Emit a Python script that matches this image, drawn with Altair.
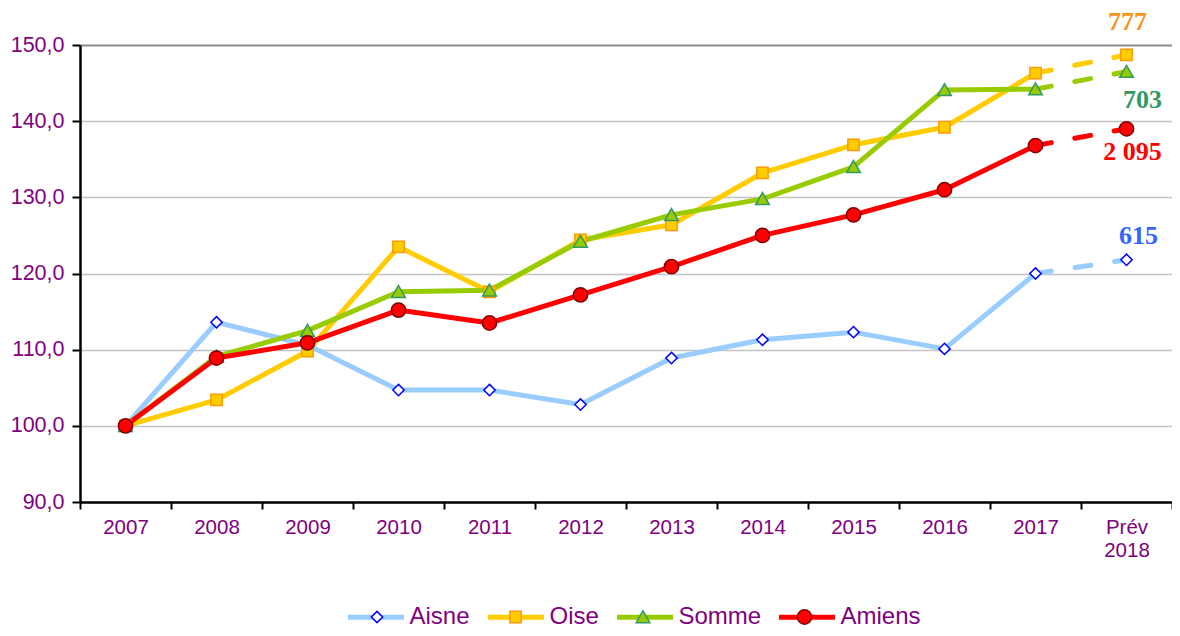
import altair as alt
import pandas as pd

# ---------------- data ----------------
years = ["2007", "2008", "2009", "2010", "2011", "2012", "2013", "2014",
         "2015", "2016", "2017", "Prév 2018"]
series = ["Aisne", "Oise", "Somme", "Amiens"]

aisne = [100.0, 113.6, 110.6, 104.7, 104.7, 102.8, 108.9, 111.3, 112.3, 110.1, 120.0, 121.8]
oise = [100.0, 103.4, 109.8, 123.5, 117.6, 124.4, 126.4, 133.2, 136.9, 139.2, 146.3, 148.7]
somme = [100.0, 109.1, 112.5, 117.6, 117.8, 124.2, 127.7, 129.8, 134.0, 144.1, 144.2, 146.5]
amiens = [100.0, 108.9, 110.9, 115.2, 113.5, 117.2, 120.9, 125.0, 127.7, 131.0, 136.8, 139.0]

annotations = ["615", "777", "703", "2 095"]

y_ticks = [90, 100, 110, 120, 130, 140, 150]

# ---------------- styles ----------------
PURPLE = "#800080"
line_colors = ["#99ccff", "#ffcc00", "#99cc00", "#ff0000"]
marker_fill = ["#ffffff", "#ffcc00", "#99cc00", "#ff0000"]
marker_stroke = ["#0000ff", "#ff9900", "#339966", "#800000"]
annot_colors = ["#3366ff", "#f7941d", "#339966", "#ff0000"]
# label offsets (dx, dy) for the end annotations
annot_offsets = [(12, -24), (1, -33), (16, 28), (6, 23)]

# custom marker paths (unit box), drawn with a symbol size of 59.5^2
marker_paths = [
    "M0,-0.19L0.19,0L0,0.19L-0.19,0Z",
    "M-0.19,-0.19H0.19V0.19H-0.19Z",
    "M0,-0.21L0.23,0.19H-0.23Z",
    "M0.24,0A0.24,0.24 0 1,1 -0.24,0A0.24,0.24 0 1,1 0.24,0Z",
]
MARK_SIZE = 59.5 ** 2
LINE_SYM = 56 ** 2
LINE_W = 5

# legend placement (pixels, relative to the plot origin)
LEG_X = 265.5
LEG_Y = 541.5
marker_legend_x = [377 - 110.5, 515.5 - 110.5, 643 - 110.5, 804.5 - 110.5]

rows = []
for name, vals, lab in zip(series, [aisne, oise, somme, amiens], annotations):
    for yr, v in zip(years, vals):
        rows.append({"year": yr, "series": name, "value": v, "annot": lab})
df = pd.DataFrame(rows)

FONT = "Liberation Sans"

x_enc = alt.X("year:O", sort=years, title=None,
              scale=alt.Scale(paddingInner=0, paddingOuter=0),
              axis=alt.Axis(labelAngle=0, tickBand="extent", tickSize=7,
                            tickColor="black", tickWidth=2,
                            domainColor="black", domainWidth=2.5,
                            labelColor=PURPLE, labelFont=FONT, labelFontSize=20.5,
                            labelPadding=8, labelBaseline="top", labelLineHeight=23,
                            labelExpr="datum.value == 'Prév 2018' ? ['Prév', '2018'] : datum.value"))
y_enc = alt.Y("value:Q", title=None,
              scale=alt.Scale(domain=[90, 150], nice=False, zero=False),
              axis=alt.Axis(values=y_ticks, tickSize=8, tickColor="black", tickWidth=2,
                            domainColor="black", domainWidth=2.5,
                            labelColor=PURPLE, labelFont=FONT, labelFontSize=21.5,
                            labelPadding=8,
                            labelExpr="replace(format(datum.value, '.1f'), '.', ',')",
                            grid=True,
                            gridColor={"condition": {"test": "datum.value === 150", "value": "#8c8c8c"},
                                       "value": "#c3c3c3"},
                            gridWidth={"condition": {"test": "datum.value === 150", "value": 2},
                                       "value": 1.5}))

color_scale = alt.Scale(domain=series, range=line_colors)

line_legend = alt.Legend(title=None, orient="none", legendX=LEG_X, legendY=LEG_Y,
                         direction="horizontal", symbolType="stroke",
                         symbolSize=LINE_SYM, symbolStrokeWidth=LINE_W,
                         labelFont=FONT, labelFontSize=24, labelColor=PURPLE,
                         labelOffset=3, columnPadding=7, padding=0, zindex=0)

base = alt.Chart(df)

solid = base.transform_filter(alt.datum.year != "Prév 2018").mark_line(
    strokeWidth=LINE_W, strokeCap="round", strokeJoin="round"
).encode(
    x=x_enc, y=y_enc,
    color=alt.Color("series:N", scale=color_scale, legend=line_legend),
)

dashed = base.transform_filter(
    alt.FieldOneOfPredicate(field="year", oneOf=["2017", "Prév 2018"])
).mark_line(strokeWidth=LINE_W, strokeCap="round", strokeDash=[16, 24]).encode(
    x=alt.X("year:O", sort=years), y="value:Q",
    color=alt.Color("series:N", scale=color_scale, legend=None),
)

point_layers = []
for name, path, fcol, scol, lx in zip(series, marker_paths, marker_fill, marker_stroke, marker_legend_x):
    leg = alt.Legend(title=None, orient="none", legendX=lx, legendY=LEG_Y,
                     direction="horizontal", symbolSize=MARK_SIZE, symbolStrokeWidth=1.5,
                     labelExpr="''", labelOffset=0, padding=0, zindex=1)
    point_layers.append(
        base.transform_filter(alt.datum.series == name).mark_point(
            filled=True, size=MARK_SIZE, strokeWidth=1.5, opacity=1
        ).encode(
            x=alt.X("year:O", sort=years), y="value:Q",
            shape=alt.Shape("series:N", scale=alt.Scale(domain=[name], range=[path]), legend=leg),
            fill=alt.Fill("series:N", scale=alt.Scale(domain=[name], range=[fcol]), legend=leg),
            stroke=alt.Stroke("series:N", scale=alt.Scale(domain=[name], range=[scol]), legend=leg),
        )
    )

texts = []
for name, col, (dx, dy) in zip(series, annot_colors, annot_offsets):
    texts.append(
        base.transform_filter(
            (alt.datum.series == name) & (alt.datum.year == "Prév 2018")
        ).mark_text(font="Liberation Serif", fontWeight="bold", fontSize=26,
                    color=col, dx=dx, dy=dy, align="center", baseline="middle").encode(
            x=alt.X("year:O", sort=years), y="value:Q", text="annot:N")
    )

chart = alt.layer(solid, dashed, *point_layers, *texts).resolve_scale(
    shape="independent", fill="independent", stroke="independent"
).properties(
    width=1092, height=457,
    autosize=alt.AutoSizeParams(type="none"),
    padding={"left": 72, "top": 37, "right": 0, "bottom": 126},
).configure_view(stroke=None)

chart.save("out.html", embed_options={"renderer": "svg", "actions": False})
